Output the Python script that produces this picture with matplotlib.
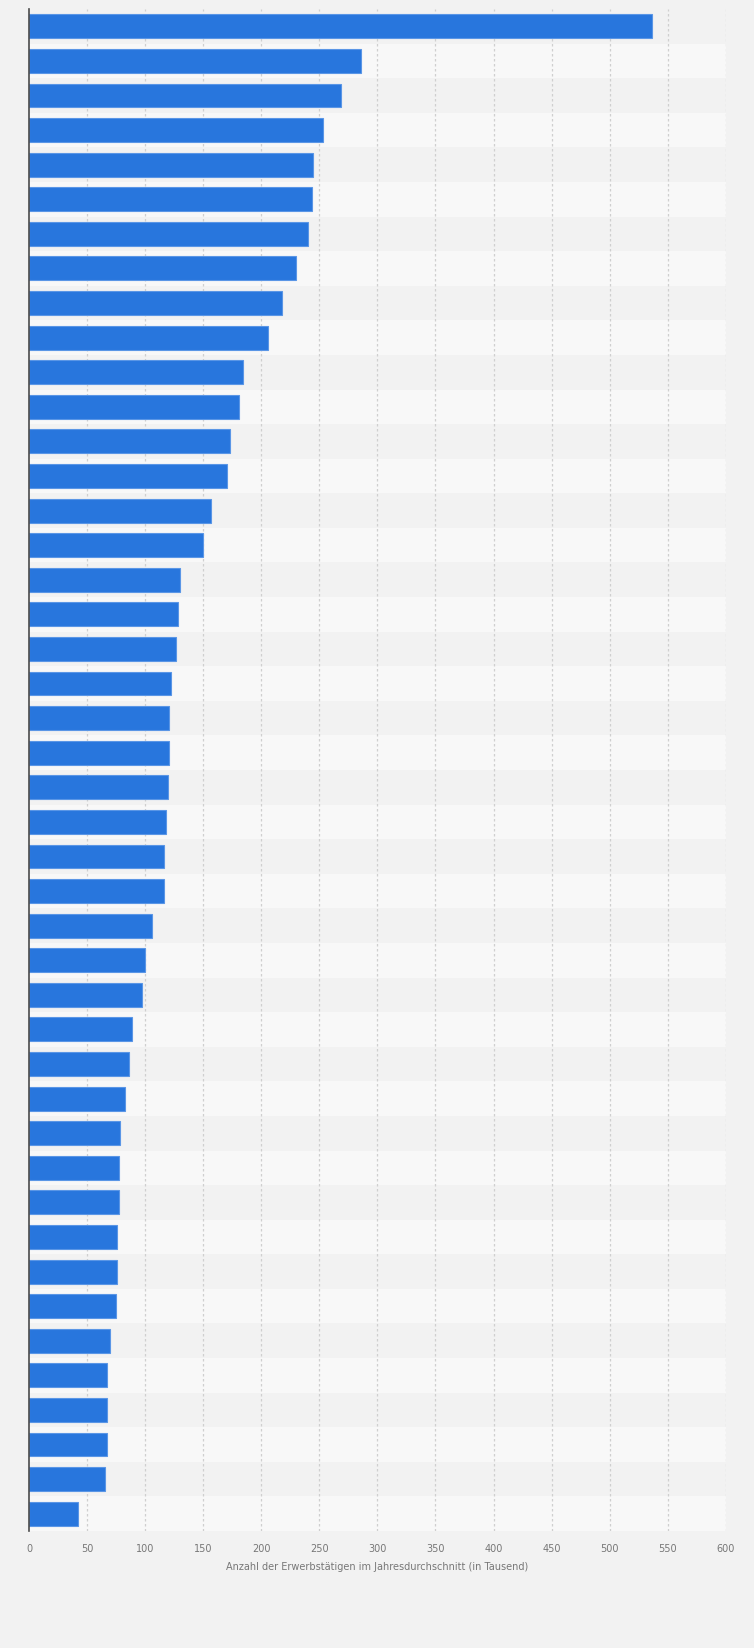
import numpy as np
import matplotlib.pyplot as plt

# Werte (in Tausend), von oben nach unten
werte = [537, 285.5, 269, 253, 244.7, 243.8, 240, 230, 217.5, 205.7,
         184, 181, 173, 170, 157, 149.5, 129.6, 127.8, 126, 122.4,
         120.5, 120.5, 119.6, 117.8, 116, 116, 106, 99.7, 97, 88.8,
         86, 82.5, 78, 77, 77, 76, 76, 74.3, 69.8, 67,
         67, 67, 65.3, 41.7]
x_ticks = list(range(0, 601, 50))
x_label = 'Anzahl der Erwerbstätigen im Jahresdurchschnitt (in Tausend)'

bg = '#f2f2f2'
band = '#f8f8f8'
bar_color = '#2876dd'

W, H = 754, 1649
left, right, top, bottom = 29.3, 725.6, 10, 1532
fig = plt.figure(figsize=(W / 100, H / 100), dpi=100, facecolor=bg)
ax = fig.add_axes([left / W, 1 - bottom / H, (right - left) / W, (bottom - top) / H])
ax.set_facecolor(bg)

n = len(werte)
y = np.arange(n)

# abwechselnde Zeilenhintergründe
for i in range(n):
    if i % 2 == 1:
        ax.axhspan(i - 0.5, i + 0.5, color=band, zorder=0, lw=0)

ax.barh(y, werte, height=0.69, color=bar_color, edgecolor='#5a96e6',
        linewidth=0.8, zorder=3)

ax.set_xlim(0, 600)
ax.set_ylim(n - 0.5, -0.5)

for t in x_ticks[1:]:
    ax.axvline(t, color='#cfcfcf', lw=0.9, ls=(0, (2, 2)), zorder=1)

ax.set_xticks(x_ticks)
ax.set_xticklabels([str(t) for t in x_ticks], fontsize=7, color='#777777')
ax.tick_params(axis='x', length=0, pad=9)
ax.set_yticks([])

for s in ['top', 'right', 'bottom']:
    ax.spines[s].set_visible(False)
ax.spines['left'].set_color('#4a4a4a')
ax.spines['left'].set_linewidth(1.2)
ax.spines['left'].set_zorder(5)

ax.set_xlabel(x_label, fontsize=7, color='#777777')
ax.xaxis.set_label_coords(0.5, -(1567 - bottom) / (bottom - top))
ax.xaxis.label.set_va('center')

fig.savefig('out.png', dpi=100, facecolor=bg)
